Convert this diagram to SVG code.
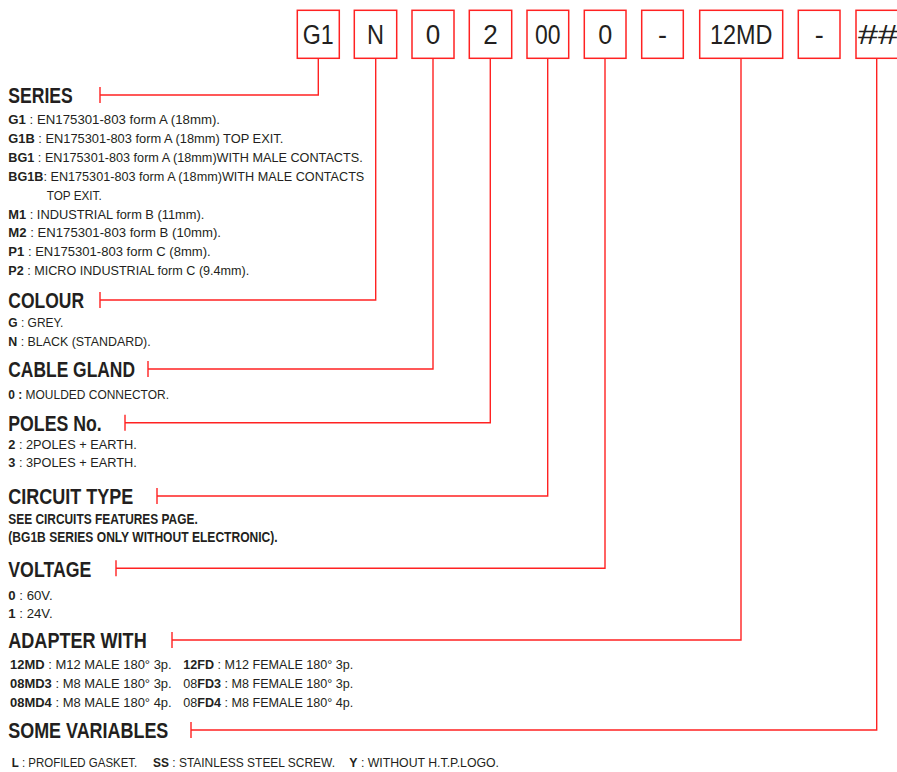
<svg xmlns="http://www.w3.org/2000/svg" width="897" height="772" viewBox="0 0 897 772">
<style>
text{font-family:"Liberation Sans",Arial,sans-serif;fill:#231f20}
.lbl{font-size:27px;text-anchor:middle}
.hd{font-size:22.5px;font-weight:bold}
.bd{font-size:13.5px}
.sm{font-size:12.6px}
.bb{font-size:14px;font-weight:bold}
.b{font-weight:bold}
.box{fill:none;stroke:#ff2222;stroke-width:1.5}
.con{fill:none;stroke:#ff2222;stroke-width:1.4}
</style>
<rect width="897" height="772" fill="#ffffff"/>

<g id="code">
 <g id="box-series"><rect class="box" x="297.3" y="10.3" width="42" height="48"/><text class="lbl" x="318.3" y="44.3" textLength="31" lengthAdjust="spacingAndGlyphs">G1</text></g>
 <g id="box-colour"><rect class="box" x="354.3" y="10.3" width="42.4" height="48"/><text class="lbl" x="375.5" y="44.3" textLength="17" lengthAdjust="spacingAndGlyphs">N</text></g>
 <g id="box-gland"><rect class="box" x="412" y="10.3" width="42" height="48"/><text class="lbl" x="433" y="44.3" textLength="14.5" lengthAdjust="spacingAndGlyphs">0</text></g>
 <g id="box-poles"><rect class="box" x="469.3" y="10.3" width="42.4" height="48"/><text class="lbl" x="490.5" y="44.3" textLength="14.5" lengthAdjust="spacingAndGlyphs">2</text></g>
 <g id="box-circuit"><rect class="box" x="527" y="10.3" width="41.7" height="48"/><text class="lbl" x="547.8" y="44.3" textLength="25.5" lengthAdjust="spacingAndGlyphs">00</text></g>
 <g id="box-voltage"><rect class="box" x="584.3" y="10.3" width="41.7" height="48"/><text class="lbl" x="605.2" y="44.3" textLength="14" lengthAdjust="spacingAndGlyphs">0</text></g>
 <g id="box-dash1"><rect class="box" x="641.7" y="10.3" width="41.6" height="48"/><text class="lbl" x="662.5" y="44.3">-</text></g>
 <g id="box-adapter"><rect class="box" x="699.7" y="10.3" width="83" height="48"/><text class="lbl" x="741.2" y="44.3" textLength="62.5" lengthAdjust="spacingAndGlyphs">12MD</text></g>
 <g id="box-dash2"><rect class="box" x="798.3" y="10.3" width="41.7" height="48"/><text class="lbl" x="819.2" y="44.3">-</text></g>
 <g id="box-variables"><rect class="box" x="856" y="10.3" width="42" height="48"/><text class="lbl" x="877.5" y="43.5" font-style="italic" textLength="40" lengthAdjust="spacingAndGlyphs">##</text></g>
</g>

<g id="connectors">
 <path class="con" d="M318.3,58.3V95H100M100,87V103"/>
 <path class="con" d="M375.7,58.3V300H100M100,292V308"/>
 <path class="con" d="M433,58.3V369H148M148,361V377"/>
 <path class="con" d="M490.3,58.3V422.7H125M125,414.7V430.7"/>
 <path class="con" d="M547.7,58.3V496H157M157,488V504"/>
 <path class="con" d="M605,58.3V568.3H116M116,560.3V576.3"/>
 <path class="con" d="M741,58.3V640H172M172,632V648"/>
 <path class="con" d="M876.7,58.3V730H191M191,722V738"/>
</g>

<g id="series">
 <text class="hd" x="8.3" y="103" textLength="64.4" lengthAdjust="spacingAndGlyphs">SERIES</text>
 <text class="bd" x="8.3" y="124" textLength="211.7" lengthAdjust="spacingAndGlyphs"><tspan class="b">G1</tspan> : EN175301-803 form A (18mm).</text>
 <text class="bd" x="8.3" y="143" textLength="275" lengthAdjust="spacingAndGlyphs"><tspan class="b">G1B</tspan> : EN175301-803 form A (18mm) TOP EXIT.</text>
 <text class="bd" x="8.3" y="161.8" textLength="354.4" lengthAdjust="spacingAndGlyphs"><tspan class="b">BG1</tspan> : EN175301-803 form A (18mm)WITH MALE CONTACTS.</text>
 <text class="bd" x="8.3" y="180.7" textLength="356" lengthAdjust="spacingAndGlyphs"><tspan class="b">BG1B</tspan>: EN175301-803 form A (18mm)WITH MALE CONTACTS</text>
 <text class="bd" x="46.7" y="199.6" textLength="55" lengthAdjust="spacingAndGlyphs">TOP EXIT.</text>
 <text class="bd" x="8.3" y="218.5" textLength="196" lengthAdjust="spacingAndGlyphs"><tspan class="b">M1</tspan> : INDUSTRIAL form B (11mm).</text>
 <text class="bd" x="8.3" y="237.4" textLength="212.7" lengthAdjust="spacingAndGlyphs"><tspan class="b">M2</tspan> : EN175301-803 form B (10mm).</text>
 <text class="bd" x="8.3" y="256.3" textLength="202.4" lengthAdjust="spacingAndGlyphs"><tspan class="b">P1</tspan> : EN175301-803 form C (8mm).</text>
 <text class="bd" x="8.3" y="275.2" textLength="241" lengthAdjust="spacingAndGlyphs"><tspan class="b">P2</tspan> : MICRO INDUSTRIAL form C (9.4mm).</text>
</g>

<g id="colour">
 <text class="hd" x="8.3" y="308" textLength="75.7" lengthAdjust="spacingAndGlyphs">COLOUR</text>
 <text class="bd" x="8.3" y="327.2" textLength="55" lengthAdjust="spacingAndGlyphs"><tspan class="b">G</tspan> : GREY.</text>
 <text class="bd" x="8.3" y="346" textLength="142.4" lengthAdjust="spacingAndGlyphs"><tspan class="b">N</tspan> : BLACK (STANDARD).</text>
</g>

<g id="cable-gland">
 <text class="hd" x="8.3" y="377" textLength="126.7" lengthAdjust="spacingAndGlyphs">CABLE GLAND</text>
 <text class="sm" x="8.3" y="399" textLength="160.7" lengthAdjust="spacingAndGlyphs"><tspan class="b">0 :</tspan> MOULDED CONNECTOR.</text>
</g>

<g id="poles">
 <text class="hd" x="8.3" y="431" textLength="93.4" lengthAdjust="spacingAndGlyphs">POLES No.</text>
 <text class="bd" x="8.3" y="449" textLength="128.4" lengthAdjust="spacingAndGlyphs"><tspan class="b">2</tspan> : 2POLES + EARTH.</text>
 <text class="bd" x="8.3" y="467.2" textLength="128.4" lengthAdjust="spacingAndGlyphs"><tspan class="b">3</tspan> : 3POLES + EARTH.</text>
</g>

<g id="circuit-type">
 <text class="hd" x="8.3" y="504" textLength="125" lengthAdjust="spacingAndGlyphs">CIRCUIT TYPE</text>
 <text class="bb" x="8.3" y="524.3" textLength="189.4" lengthAdjust="spacingAndGlyphs">SEE CIRCUITS FEATURES PAGE.</text>
 <text class="bb" x="8.3" y="541.8" textLength="269.4" lengthAdjust="spacingAndGlyphs">(BG1B SERIES ONLY WITHOUT ELECTRONIC).</text>
</g>

<g id="voltage">
 <text class="hd" x="8.3" y="577" textLength="83" lengthAdjust="spacingAndGlyphs">VOLTAGE</text>
 <text class="bd" x="8.3" y="600" textLength="44.3" lengthAdjust="spacingAndGlyphs"><tspan class="b">0</tspan> : 60V.</text>
 <text class="bd" x="8.3" y="618" textLength="44.3" lengthAdjust="spacingAndGlyphs"><tspan class="b">1</tspan> : 24V.</text>
</g>

<g id="adapter">
 <text class="hd" x="8.3" y="648" textLength="138.4" lengthAdjust="spacingAndGlyphs">ADAPTER WITH</text>
 <text class="bd" x="10" y="668.7" textLength="161.7" lengthAdjust="spacingAndGlyphs"><tspan class="b">12MD</tspan> : M12 MALE 180° 3p.</text>
 <text class="bd" x="183.3" y="668.7" textLength="170" lengthAdjust="spacingAndGlyphs"><tspan class="b">12FD</tspan> : M12 FEMALE 180° 3p.</text>
 <text class="bd" x="10" y="688" textLength="161.7" lengthAdjust="spacingAndGlyphs"><tspan class="b">08MD3</tspan> : M8 MALE 180° 3p.</text>
 <text class="bd" x="183.3" y="688" textLength="170" lengthAdjust="spacingAndGlyphs">08<tspan class="b">FD3</tspan> : M8 FEMALE 180° 3p.</text>
 <text class="bd" x="10" y="707.3" textLength="161.7" lengthAdjust="spacingAndGlyphs"><tspan class="b">08MD4</tspan> : M8 MALE 180° 4p.</text>
 <text class="bd" x="183.3" y="707.3" textLength="170" lengthAdjust="spacingAndGlyphs">08<tspan class="b">FD4</tspan> : M8 FEMALE 180° 4p.</text>
</g>

<g id="variables">
 <text class="hd" x="8.3" y="738" textLength="160" lengthAdjust="spacingAndGlyphs">SOME VARIABLES</text>
 <text class="sm" x="11.7" y="766.5" textLength="125.6" lengthAdjust="spacingAndGlyphs"><tspan class="b">L</tspan> : PROFILED GASKET.</text>
 <text class="sm" x="153" y="766.5" textLength="182" lengthAdjust="spacingAndGlyphs"><tspan class="b">SS</tspan> : STAINLESS STEEL SCREW.</text>
 <text class="sm" x="349.3" y="766.5" textLength="149.7" lengthAdjust="spacingAndGlyphs"><tspan class="b">Y</tspan> : WITHOUT H.T.P.LOGO.</text>
</g>
</svg>
